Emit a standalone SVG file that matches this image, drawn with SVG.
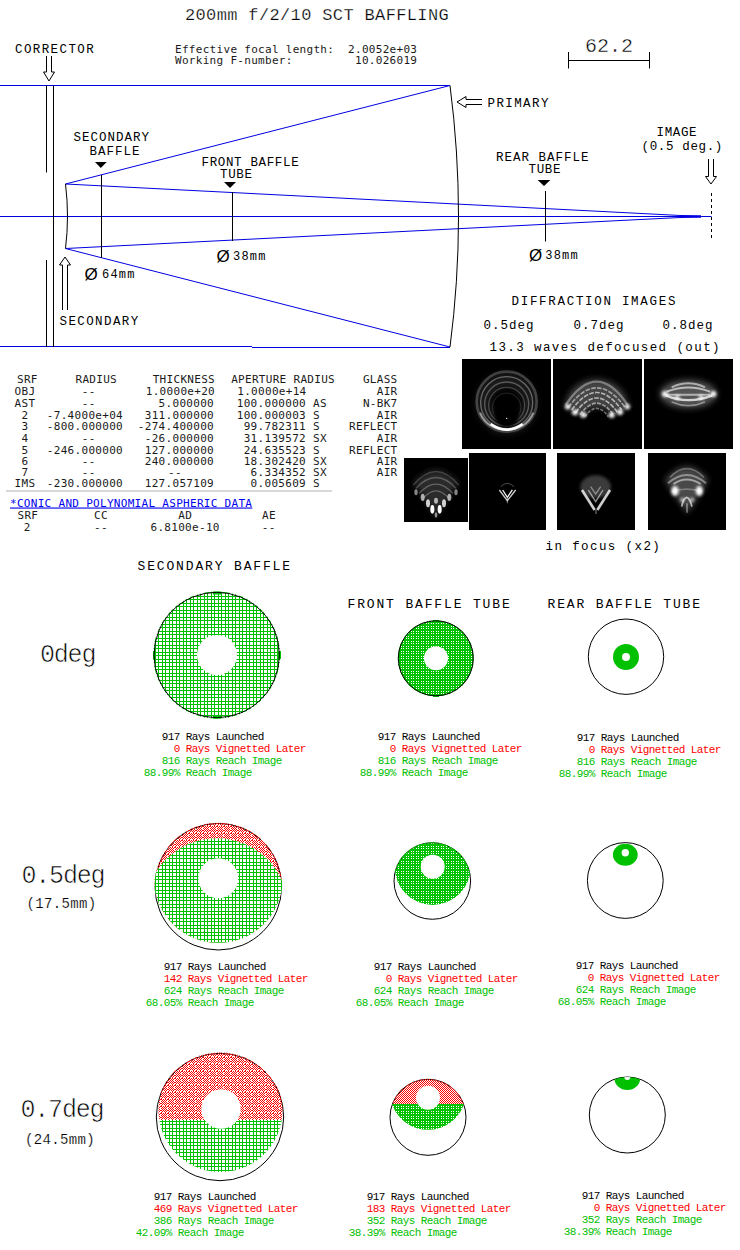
<svg xmlns="http://www.w3.org/2000/svg" width="740" height="1250" viewBox="0 0 740 1250">
<style>
text{font-family:"Liberation Mono",monospace;fill:#000;white-space:pre}
.title{font-size:17px;letter-spacing:.36px;stroke:#fff;stroke-width:.25px}
.l81{font-size:12.5px;letter-spacing:.65px}
.l85{font-size:12.5px;letter-spacing:1px}
.l90{font-size:12.5px;letter-spacing:1.4px}
.l92{font-size:12.5px;letter-spacing:1.7px}
.l97{font-size:13px;letter-spacing:1.85px}
.big{font-size:25px;letter-spacing:-1.2px;stroke:#fff;stroke-width:.6px}
.mid{font-size:14px;letter-spacing:.35px;stroke:#fff;stroke-width:.15px}
.scale{font-size:20px;stroke:#fff;stroke-width:.4px}
.mm{font-size:12px;letter-spacing:1.2px}
.phi{font-family:"Liberation Sans",sans-serif;font-size:17px}
.tb,.tb text{font-family:"DejaVu Sans Mono",monospace;font-size:11px;letter-spacing:.3px;fill:#1a1a1a}
.e{text-anchor:end}.m{text-anchor:middle}
.link{fill:#0000ee!important;text-decoration:underline}
.ray{font-size:11px;letter-spacing:-.6px}
.r{fill:#f00}.g{fill:#00c000}
.bl{stroke:#0000e0;fill:none;stroke-width:1}
.bk{stroke:#000;fill:none;stroke-width:1}
.ar{stroke:#000;fill:#fff;stroke-width:1}
.o{fill:none;stroke:#000;stroke-width:1}
.w{fill:#fff}
.lum{fill:none;stroke:#fff}
.gn{fill:#00c000}
</style>
<defs>
<pattern id="gd" width="7" height="7" patternUnits="userSpaceOnUse"><path d="M1 0h1v7H1zM4 0h1v7H4zM0 1h7v1H0zM0 4h7v1H0z" fill="#00c000" shape-rendering="crispEdges"/></pattern>
<pattern id="gf" width="5" height="5" patternUnits="userSpaceOnUse"><path d="M0 0h5v5H0zM1 1v1h1V1zM3 1v1h1V1zM1 3v1h1V3zM3 3v1h1V3z" fill="#00c000" fill-rule="evenodd" shape-rendering="crispEdges"/></pattern>
<pattern id="rd" width="7" height="7" patternUnits="userSpaceOnUse"><path d="M0 0h1v1H0zM2 0h1v1H2zM4 0h1v1H4zM1 1h1v1H1zM3 1h1v1H3zM5 1h1v1H5zM0 2h1v1H0zM2 2h1v1H2zM4 2h1v1H4zM1 3h1v1H1zM3 3h1v1H3zM5 3h1v1H5zM0 4h1v1H0zM2 4h1v1H2zM4 4h1v1H4zM1 5h1v1H1zM3 5h1v1H3zM5 5h1v1H5zM6 0h1v1H6zM6 4h1v1H6zM0 6h1v1H0zM4 6h1v1H4z" fill="#f00" shape-rendering="crispEdges"/></pattern>
<pattern id="rf" width="2" height="2" patternUnits="userSpaceOnUse"><path d="M0 0h1v1H0zM1 1h1v1H1z" fill="#f00" shape-rendering="crispEdges"/></pattern>
<filter id="b1" x="-30%" y="-30%" width="160%" height="160%"><feGaussianBlur stdDeviation="2"/></filter>
<filter id="b2" x="-30%" y="-30%" width="160%" height="160%"><feGaussianBlur stdDeviation="5"/></filter>
<filter id="b3" x="-40%" y="-40%" width="180%" height="180%"><feGaussianBlur stdDeviation="9"/></filter>
<clipPath id="c1"><rect x="186" y="207" width="267" height="270"/></clipPath>
<clipPath id="c2"><rect x="459" y="207" width="267" height="270"/></clipPath>
<clipPath id="c3"><rect x="732" y="207" width="267" height="270"/></clipPath>
<clipPath id="c4"><rect x="12" y="504" width="192" height="192"/></clipPath>
<clipPath id="c5"><rect x="207" y="489" width="231" height="231"/></clipPath>
<clipPath id="c6"><rect x="471" y="489" width="234" height="231"/></clipPath>
<clipPath id="c7"><rect x="744" y="489" width="234" height="231"/></clipPath>
<clipPath id="o21"><circle cx="218.3" cy="886.7" r="64"/></clipPath>
<clipPath id="d21"><circle cx="218.3" cy="878.3" r="64.5"/></clipPath>
<clipPath id="o22"><circle cx="432.3" cy="881" r="38.8"/></clipPath>
<clipPath id="o31"><circle cx="220" cy="1117" r="64.5"/></clipPath>
<clipPath id="o32"><circle cx="428" cy="1117.3" r="38.5"/></clipPath>
<clipPath id="o33"><circle cx="627.3" cy="1115" r="38"/></clipPath>
</defs>
<rect width="740" height="1250" fill="#fff"/>

<text id="title" class="title" x="185" y="20">200mm f/2/10 SCT BAFFLING</text>

<g id="summary" class="tb">
<text x="175" y="53" xml:space="preserve">Effective focal length:  2.0052e+03</text>
<text x="175" y="64" xml:space="preserve">Working F-number:         10.026019</text>
</g>

<g id="scale-bar">
<path class="bk" d="M568.5 60.5H649.5M568.5 52V68.5M649.5 52V68.5"/>
<text class="scale" x="585" y="52">62.2</text>
</g>

<g id="connectors">
<path class="bl" d="M0 85.5H450M0 346.5H252M252 347.5H450M0 216.5H711.5"/>
<path class="bl" d="M65.5 184L450 85.5M65.5 248.5L450 347M65.5 184L700 216.5M65.5 248.5L700 216.5"/>
<path class="bl" style="stroke-width:2.5" d="M680 216.5H701"/>
<path class="ar" d="M46.5 56V72H43.5L49 81L54.5 72H51.5V56"/>
<path class="ar" d="M62.5 310V265H59.5L65 257L70.5 265H67.5V310"/>
<path class="ar" d="M482 99.5H466V96.5L457 102L466 107.5V104.5H482"/>
<path class="ar" d="M708.5 159V176.5H705.5L711 184L716.5 176.5H713.5V159"/>
</g>

<g id="corrector">
<text class="l90" x="15" y="52.5">CORRECTOR</text>
<path class="bk" d="M46.5 85.5V172.5M46.5 260V347M53.5 85.5V347"/>
</g>
<g id="primary">
<text class="l90" x="487.5" y="106.5">PRIMARY</text>
<path class="bk" d="M450 85.5Q467 216.5 450 347"/>
</g>
<g id="secondary">
<text class="l90" x="59.5" y="324.5">SECONDARY</text>
<path class="bk" d="M65.5 184Q69.5 216.5 65.5 248.5"/>
</g>
<g id="secondary-baffle">
<text class="l85" x="73.5" y="141">SECONDARY</text>
<text class="l85" x="89.5" y="155">BAFFLE</text>
<path d="M95 162H106.7L100.8 168Z"/>
<path class="bk" d="M101.5 175V258"/>
<text class="mm"><tspan class="phi" x="84.5" y="279.5">Ø</tspan><tspan x="102" y="277.7">64mm</tspan></text>
</g>
<g id="front-baffle">
<text class="l81" x="201.5" y="166">FRONT BAFFLE</text>
<text class="l81" x="220" y="177.5">TUBE</text>
<path d="M224 182H236L230 188Z"/>
<path class="bk" d="M232.5 192V241"/>
<text class="mm"><tspan class="phi" x="216.5" y="261.5">Ø</tspan><tspan x="233" y="259.7">38mm</tspan></text>
</g>
<g id="rear-baffle">
<text class="l85" x="496" y="161">REAR BAFFLE</text>
<text class="l81" x="528.5" y="173">TUBE</text>
<path d="M537.7 180H550.3L544 186Z"/>
<path class="bk" d="M545.5 191V241.5"/>
<text class="mm"><tspan class="phi" x="529" y="260.5">Ø</tspan><tspan x="545.3" y="258.7">38mm</tspan></text>
</g>
<g id="image-plane">
<text class="l81" x="656.5" y="136">IMAGE</text>
<text class="l81" x="641.5" y="150">(0.5 deg.)</text>
<path class="bk" stroke-dasharray="3 3" d="M711.5 193V240"/>
</g>

<g id="diffraction-labels">
<text class="l92" x="511.5" y="305">DIFFRACTION IMAGES</text>
<text class="l85" x="483.5" y="328.5">0.5deg</text>
<text class="l85" x="573.5" y="328.5">0.7deg</text>
<text class="l85" x="662.5" y="328.5">0.8deg</text>
<text class="l90" x="489.5" y="351">13.3 waves defocused (out)</text>
<text class="l90" x="545.5" y="549.5">in focus (x2)</text>
</g>

<g id="diffraction-images" transform="translate(400 290) scale(.33333)">
<rect x="186" y="207" width="267" height="270"/>
<rect x="459" y="207" width="267" height="270"/>
<rect x="732" y="207" width="267" height="270"/>
<rect x="12" y="504" width="192" height="192"/>
<rect x="207" y="489" width="231" height="231"/>
<rect x="471" y="489" width="234" height="231"/>
<rect x="744" y="489" width="234" height="231"/>

<g id="df1" clip-path="url(#c1)">
<circle cx="320" cy="340" r="70" fill="none" stroke="#fff" stroke-opacity=".1" stroke-width="45" filter="url(#b3)"/>
<g filter="url(#b1)" class="lum">
<circle cx="320" cy="335" r="90" stroke-width="8" stroke-opacity=".22"/>
<circle cx="320" cy="338" r="78" stroke-width="4" stroke-opacity=".35"/>
<circle cx="320" cy="342" r="66" stroke-width="4" stroke-opacity=".28"/>
<circle cx="320" cy="346" r="54" stroke-width="4" stroke-opacity=".22"/>
<circle cx="320" cy="352" r="43" stroke-width="3" stroke-opacity=".15"/>
</g>
<circle cx="320" cy="376" r="36" fill="#000" filter="url(#b2)"/>
<g filter="url(#b1)" class="lum">
<path d="M240 368Q262 418 320 420Q378 418 400 368" stroke-width="6" stroke-opacity=".5"/>
<path d="M272 402Q320 436 368 402" stroke-width="8"/>
<circle cx="320" cy="385" r="2" fill="#fff" stroke="none"/>
</g>
</g>

<g id="df2" clip-path="url(#c2)">
<path d="M495 350C510 240 670 240 685 350L640 372Q590 330 545 372Z" fill="#444" filter="url(#b3)"/>
<g filter="url(#b1)" class="lum" stroke-width="5">
<path d="M497 345Q590 205 683 345" stroke-opacity=".35" stroke-width="7"/>
<path d="M505 352Q590 235 675 352" stroke-opacity=".5" stroke-dasharray="14 4"/>
<path d="M515 360Q590 255 665 360" stroke-opacity=".6" stroke-dasharray="14 4"/>
<path d="M527 368Q590 280 653 368" stroke-opacity=".6" stroke-dasharray="14 4"/>
<path d="M540 374Q590 305 640 374" stroke-opacity=".5" stroke-dasharray="12 4"/>
<path d="M555 380Q590 330 625 380" stroke-opacity=".4" stroke-dasharray="10 4"/>
</g>
<g filter="url(#b2)" fill="#fff">
<circle cx="503" cy="350" r="8"/><circle cx="525" cy="367" r="9"/><circle cx="550" cy="374" r="9"/>
<circle cx="635" cy="375" r="9"/><circle cx="660" cy="366" r="9"/><circle cx="682" cy="350" r="8"/>
</g>
</g>

<g id="df3" clip-path="url(#c3)">
<ellipse cx="865" cy="312" rx="85" ry="42" fill="#555" filter="url(#b3)"/>
<g filter="url(#b1)" class="lum">
<path d="M815 292Q865 268 915 292" stroke-width="6" stroke-opacity=".55"/>
<path d="M800 305Q865 280 930 305" stroke-width="6" stroke-opacity=".6"/>
<path d="M800 314H930" stroke-width="6" stroke-opacity=".55"/>
<path d="M797 316Q865 345 937 316" stroke-width="7" stroke-opacity=".75"/>
<path d="M815 336Q865 358 915 336" stroke-width="5" stroke-opacity=".4"/>
</g>
<g filter="url(#b2)" fill="#fff"><circle cx="795" cy="312" r="9"/><circle cx="940" cy="312" r="9"/><circle cx="832" cy="322" r="7"/><circle cx="903" cy="322" r="7"/></g>
</g>

<g id="df4" clip-path="url(#c4)">
<path d="M40 580Q108 500 176 580L108 680Z" fill="#2a2a2a" filter="url(#b3)"/>
<g filter="url(#b1)" class="lum" stroke-width="4">
<path d="M40 585Q108 505 176 585" stroke-opacity=".2"/>
<path d="M48 595Q108 530 168 595" stroke-opacity=".24"/>
<path d="M58 610Q108 555 158 610" stroke-opacity=".28"/>
<path d="M70 625Q108 580 146 625" stroke-opacity=".28"/>
</g>
<g filter="url(#b1)" fill="#fff">
<ellipse cx="48" cy="607" rx="5" ry="9" opacity=".5"/><ellipse cx="168" cy="607" rx="5" ry="9" opacity=".5"/>
<ellipse cx="68" cy="622" rx="6" ry="11" opacity=".65"/><ellipse cx="148" cy="622" rx="6" ry="11" opacity=".65"/>
<ellipse cx="84" cy="640" rx="6" ry="12" opacity=".8"/><ellipse cx="132" cy="640" rx="6" ry="12" opacity=".8"/>
<ellipse cx="108" cy="632" rx="6" ry="9" opacity=".65"/>
<ellipse cx="97" cy="658" rx="6" ry="13"/><ellipse cx="119" cy="658" rx="6" ry="13"/>
<ellipse cx="108" cy="675" rx="4" ry="8" opacity=".55"/>
</g>
</g>

<g id="df5" clip-path="url(#c5)">
<g class="lum" filter="url(#b1)">
<path d="M302 590Q322 570 342 590" stroke-width="3" stroke-opacity=".3"/>
<path d="M298 600L322 632L347 600" stroke-width="4" stroke-opacity=".8"/>
<path d="M308 600L322 622L337 600" stroke-width="4" stroke-opacity=".95"/>
<path d="M322 625V640" stroke-width="3" stroke-opacity=".5"/>
</g>
</g>

<g id="df6" clip-path="url(#c6)">
<ellipse cx="587" cy="590" rx="46" ry="34" fill="#3a3a3a" filter="url(#b2)"/>
<g filter="url(#b1)" class="lum">
<path d="M546 600L584 660" stroke-width="8" stroke-opacity=".8"/>
<path d="M630 600L592 660" stroke-width="8" stroke-opacity=".8"/>
<path d="M565 600L587 635L609 600" stroke-width="4" stroke-opacity=".55"/>
<path d="M572 590L587 612L602 590" stroke-width="4" stroke-opacity=".4"/>
<path d="M588 660V672" stroke-width="4" stroke-opacity=".4"/>
</g>
</g>

<g id="df7" clip-path="url(#c7)">
<path d="M795 570Q860 490 925 570L862 670Z" fill="#4a4a4a" filter="url(#b3)"/>
<g filter="url(#b1)" class="lum">
<path d="M810 562Q860 510 912 562" stroke-width="5" stroke-opacity=".28"/>
<path d="M804 580Q860 530 918 580" stroke-width="6" stroke-opacity=".4"/>
<path d="M820 582Q860 555 902 582" stroke-width="6" stroke-opacity=".5"/>
<path d="M815 605Q860 590 905 605" stroke-width="5" stroke-opacity=".28"/>
<path d="M845 650Q850 625 860 622Q870 625 876 650" stroke-width="5" stroke-opacity=".65"/>
<path d="M861 640V668" stroke-width="4" stroke-opacity=".5"/>
</g>
<g filter="url(#b2)" fill="#fff">
<ellipse cx="825" cy="603" rx="11" ry="15"/><ellipse cx="898" cy="603" rx="11" ry="15"/>
<circle cx="847" cy="630" r="7" opacity=".7"/><circle cx="876" cy="630" r="7" opacity=".7"/>
</g>
</g>
</g>

<g id="prescription" class="tb">
<text x="17" y="383.3">SRF</text><text class="e" x="117" y="383.3">RADIUS</text><text class="e" x="215" y="383.3">THICKNESS</text><text class="e" x="335" y="383.3">APERTURE RADIUS</text><text class="e" x="397.5" y="383.3">GLASS</text>
<text class="m" x="25" y="395.3">OBJ</text><text class="m" x="88.7" y="395.3">--</text><text class="e" x="215" y="395.3">1.0000e+20</text><text class="e" x="306.5" y="395.3">1.0000e+14</text><text class="e" x="397.5" y="395.3">AIR</text>
<text class="m" x="25" y="407.3">AST</text><text class="m" x="88.7" y="407.3">--</text><text class="e" x="214" y="407.3">5.000000</text><text class="e" x="306" y="407.3">100.000000</text><text x="313" y="407.3">AS</text><text class="e" x="397.5" y="407.3">N-BK7</text>
<text class="m" x="25" y="419.3">2</text><text class="e" x="123" y="419.3">-7.4000e+04</text><text class="e" x="214" y="419.3">311.000000</text><text class="e" x="306" y="419.3">100.000003</text><text x="313" y="419.3">S</text><text class="e" x="397.5" y="419.3">AIR</text>
<text class="m" x="25" y="430.3">3</text><text class="e" x="123" y="430.3">-800.000000</text><text class="e" x="214" y="430.3">-274.400000</text><text class="e" x="306" y="430.3">99.782311</text><text x="313" y="430.3">S</text><text class="e" x="397.5" y="430.3">REFLECT</text>
<text class="m" x="25" y="442.3">4</text><text class="m" x="88.7" y="442.3">--</text><text class="e" x="214" y="442.3">-26.000000</text><text class="e" x="306" y="442.3">31.139572</text><text x="313" y="442.3">SX</text><text class="e" x="397.5" y="442.3">AIR</text>
<text class="m" x="25" y="454.3">5</text><text class="e" x="123" y="454.3">-246.000000</text><text class="e" x="214" y="454.3">127.000000</text><text class="e" x="306" y="454.3">24.635523</text><text x="313" y="454.3">S</text><text class="e" x="397.5" y="454.3">REFLECT</text>
<text class="m" x="25" y="465.3">6</text><text class="m" x="88.7" y="465.3">--</text><text class="e" x="214" y="465.3">240.000000</text><text class="e" x="306" y="465.3">18.302420</text><text x="313" y="465.3">SX</text><text class="e" x="397.5" y="465.3">AIR</text>
<text class="m" x="25" y="476.3">7</text><text class="m" x="88.7" y="476.3">--</text><text class="m" x="175" y="476.3">--</text><text class="e" x="306" y="476.3">6.334352</text><text x="313" y="476.3">SX</text><text class="e" x="397.5" y="476.3">AIR</text>
<text class="m" x="25" y="487.3">IMS</text><text class="e" x="123" y="487.3">-230.000000</text><text class="e" x="214" y="487.3">127.057109</text><text class="e" x="306" y="487.3">0.005609</text><text x="313" y="487.3">S</text>
<rect x="6" y="490" width="326" height="2" fill="#d8d8d8"/>
<text class="link" x="10" y="506.5">*CONIC AND POLYNOMIAL ASPHERIC DATA</text>
<text x="17.5" y="519.3">SRF</text><text x="94" y="519.3">CC</text><text x="178.3" y="519.3">AD</text><text x="262" y="519.3">AE</text>
<text class="m" x="27.3" y="530.7">2</text><text class="m" x="101" y="530.7">--</text><text x="150.5" y="530.7">6.8100e-10</text><text class="m" x="268.7" y="530.7">--</text>
</g>

<g id="column-headers">
<text class="l97" x="137.5" y="570">SECONDARY BAFFLE</text>
<text class="l97" x="347.5" y="607.5">FRONT BAFFLE TUBE</text>
<text class="l97" x="547.5" y="607.5">REAR BAFFLE TUBE</text>
</g>
<g id="row-labels">
<text class="big" x="40" y="661.5">0deg</text>
<text class="big" x="21.5" y="882.5">0.5deg</text>
<text class="mid" x="26.5" y="907.5">(17.5mm)</text>
<text class="big" x="20.5" y="1116.5">0.7deg</text>
<text class="mid" x="25" y="1144">(24.5mm)</text>
</g>

<g id="spot-0-secondary">
<circle cx="216.7" cy="655" r="63.5" fill="url(#gd)"/>
<path class="gn" d="M213 591.5h8v3h-8zM213 715.5h8v3h-8zM153 651h3v8h-3zM278 651h3v8h-3z"/>
<circle class="w" cx="217" cy="655" r="20"/>
<circle class="o" cx="216.7" cy="655" r="62.7"/>
<text class="ray" x="161.7" y="740">917 Rays Launched</text>
<text class="ray r" x="173.7" y="752">0 Rays Vignetted Later</text>
<text class="ray g" x="161.7" y="764">816 Rays Reach Image</text>
<text class="ray g" x="143.7" y="776">88.99% Reach Image</text>
</g>
<g id="spot-0-front">
<circle cx="435.8" cy="658.3" r="38" fill="url(#gf)"/>
<path class="gn" d="M433 620h6v3h-6zM433 694h6v3h-6z"/>
<circle class="w" cx="436" cy="658.3" r="12"/>
<circle class="o" cx="435.8" cy="658.3" r="37.5"/>
<text class="ray" x="377.7" y="739.7">917 Rays Launched</text>
<text class="ray r" x="389.7" y="751.7">0 Rays Vignetted Later</text>
<text class="ray g" x="377.7" y="763.7">816 Rays Reach Image</text>
<text class="ray g" x="359.7" y="775.7">88.99% Reach Image</text>
</g>
<g id="spot-0-rear">
<circle class="o" cx="626" cy="656.7" r="37.7"/>
<circle class="gn" cx="626" cy="657" r="13"/>
<circle class="w" cx="626" cy="657" r="4"/>
<text class="ray" x="576.7" y="740.7">917 Rays Launched</text>
<text class="ray r" x="588.7" y="752.7">0 Rays Vignetted Later</text>
<text class="ray g" x="576.7" y="764.7">816 Rays Reach Image</text>
<text class="ray g" x="558.7" y="776.7">88.99% Reach Image</text>
</g>

<g id="spot-05-secondary">
<circle class="o" cx="218.3" cy="886.7" r="63.3"/>
<g clip-path="url(#o21)">
<circle cx="218.3" cy="878.3" r="64.5" fill="url(#rd)"/>
<g clip-path="url(#d21)"><circle cx="216.7" cy="910" r="71.7" class="w"/><circle cx="216.7" cy="910" r="71.7" fill="url(#gd)"/></g>
</g>
<circle class="w" cx="218.3" cy="878.3" r="20"/>
<text class="ray" x="163.7" y="970">917 Rays Launched</text>
<text class="ray r" x="163.7" y="982">142 Rays Vignetted Later</text>
<text class="ray g" x="163.7" y="994">624 Rays Reach Image</text>
<text class="ray g" x="145.7" y="1006">68.05% Reach Image</text>
</g>
<g id="spot-05-front">
<circle class="o" cx="432.3" cy="881" r="38.3"/>
<circle cx="432.7" cy="867" r="38" fill="url(#gf)" clip-path="url(#o22)"/>
<circle class="w" cx="432.7" cy="866.7" r="12"/>
<text class="ray" x="373.7" y="969.7">917 Rays Launched</text>
<text class="ray r" x="385.7" y="981.7">0 Rays Vignetted Later</text>
<text class="ray g" x="373.7" y="993.7">624 Rays Reach Image</text>
<text class="ray g" x="355.7" y="1005.7">68.05% Reach Image</text>
</g>
<g id="spot-05-rear">
<circle class="o" cx="625.3" cy="880.5" r="37.9"/>
<ellipse class="gn" cx="625.3" cy="854.7" rx="12.4" ry="11"/>
<circle class="w" cx="625.3" cy="852.7" r="3.7"/>
<text class="ray" x="575.7" y="968.7">917 Rays Launched</text>
<text class="ray r" x="587.7" y="980.7">0 Rays Vignetted Later</text>
<text class="ray g" x="575.7" y="992.7">624 Rays Reach Image</text>
<text class="ray g" x="557.7" y="1004.7">68.05% Reach Image</text>
</g>

<g id="spot-07-secondary">
<circle class="o" cx="220" cy="1117" r="63.7"/>
<g clip-path="url(#o31)">
<path d="M220.5 1048A62 62 0 0 1 281.7 1120H159.3A62 62 0 0 1 220.5 1048Z" fill="url(#rd)"/>
<path d="M159.3 1120H281.7A62 62 0 0 1 159.3 1120Z" fill="url(#gd)"/>
</g>
<circle class="w" cx="221" cy="1109" r="19.7"/>
<text class="ray" x="153.7" y="1200">917 Rays Launched</text>
<text class="ray r" x="153.7" y="1212">469 Rays Vignetted Later</text>
<text class="ray g" x="153.7" y="1224">386 Rays Reach Image</text>
<text class="ray g" x="135.7" y="1236">42.09% Reach Image</text>
</g>
<g id="spot-07-front">
<circle class="o" cx="428" cy="1117.3" r="38"/>
<g clip-path="url(#o32)">
<path d="M392 1104A38 38 0 0 1 464 1104Z" fill="url(#rf)"/>
<path d="M392 1104H464A38 38 0 0 1 392 1104Z" fill="url(#gf)"/>
</g>
<circle class="w" cx="428" cy="1097.7" r="12"/>
<text class="ray" x="366.7" y="1199.7">917 Rays Launched</text>
<text class="ray r" x="366.7" y="1211.7">183 Rays Vignetted Later</text>
<text class="ray g" x="366.7" y="1223.7">352 Rays Reach Image</text>
<text class="ray g" x="348.7" y="1235.7">38.39% Reach Image</text>
</g>
<g id="spot-07-rear">
<circle class="o" cx="627.3" cy="1115" r="38"/>
<g clip-path="url(#o33)">
<ellipse class="gn" cx="627.3" cy="1078" rx="13" ry="12"/>
<circle class="w" cx="627.3" cy="1077" r="3"/>
</g>
<text class="ray" x="581.7" y="1198.7">917 Rays Launched</text>
<text class="ray r" x="593.7" y="1210.7">0 Rays Vignetted Later</text>
<text class="ray g" x="581.7" y="1222.7">352 Rays Reach Image</text>
<text class="ray g" x="563.7" y="1234.7">38.39% Reach Image</text>
</g>
</svg>
